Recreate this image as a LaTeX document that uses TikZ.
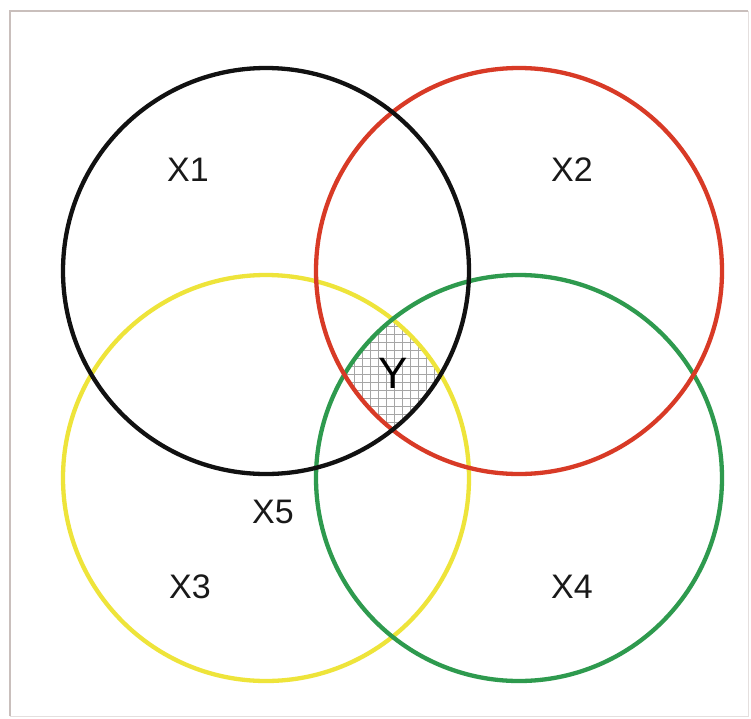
\documentclass[tikz,border=0pt]{standalone}
\usepackage{fontspec}
\setmainfont{Liberation Sans}
\definecolor{cblack}{HTML}{111111}
\definecolor{cred}{HTML}{D83A26}
\definecolor{cyellow}{HTML}{EEE43A}
\definecolor{cgreen}{HTML}{2E9A4E}
\definecolor{frame}{HTML}{C9BFBC}
\tikzset{
  ring/.style={line width=4.3pt},
  lbl/.style={font=\fontsize{34}{34}\selectfont, text=black!90, inner sep=0pt},
  biglbl/.style={font=\fontsize{44}{44}\selectfont, text=black, inner sep=0pt},
  hatch/.style={gray!70, line width=0.6pt},
}
\begin{document}
\begin{tikzpicture}[x=1pt,y=-1pt]
\useasboundingbox (0,0) rectangle (751,718);
\fill[white] (0,0) rectangle (751,718);
\draw[frame, line width=1.6pt] (10,716) -- (10,11) -- (748,11);
\draw[frame!50, line width=1pt] (748,11) -- (748,716) -- (10,716);
% hatched common region
\begin{scope}
  \clip (266,271) circle (203);
  \clip (519,271) circle (203);
  \clip (266,478) circle (203);
  \clip (519,478) circle (203);
  \foreach \i in {330,338,...,460} {
    \draw[hatch] (\i,300) -- (\i,450);
  }
  \foreach \j in {302,310,...,450} {
    \draw[hatch] (330,\j) -- (460,\j);
  }
\end{scope}
\node[biglbl] (Y) at (393,373) {Y};
\draw[ring, cyellow] (266,478) circle (203);
\draw[ring, cgreen] (519,478) circle (203);
\draw[ring, cred] (519,271) circle (203);
\draw[ring, cblack] (266,271) circle (203);
\node[lbl] (X1) at (188,170) {X1};
\node[lbl] (X2) at (572,170) {X2};
\node[lbl] (X3) at (190,587) {X3};
\node[lbl] (X4) at (572,587) {X4};
\node[lbl] (X5) at (273,512) {X5};
\end{tikzpicture}
\end{document}
